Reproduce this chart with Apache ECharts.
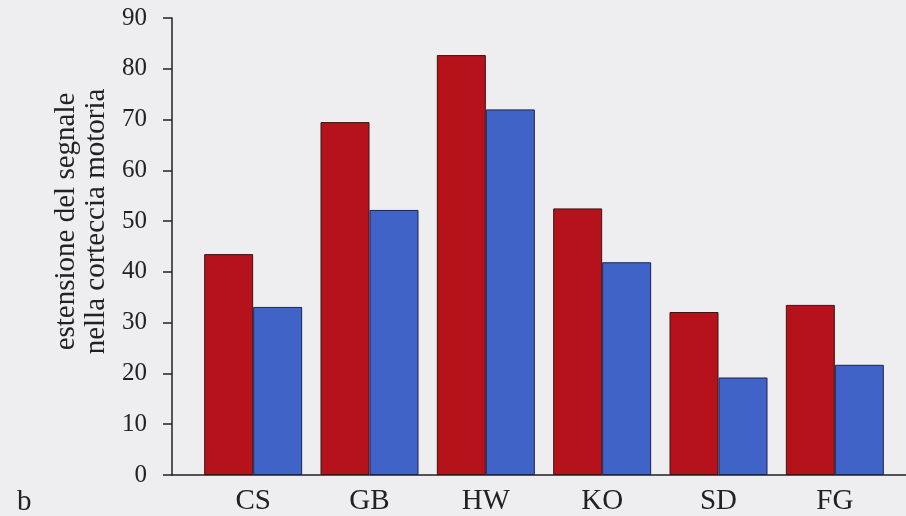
<!DOCTYPE html>
<html>
<head>
<meta charset="utf-8">
<script src="https://cdn.jsdelivr.net/npm/echarts@6/dist/echarts.min.js"></script>
<style>
  html, body { margin: 0; padding: 0; background: #eeeef0; }
  #chart { width: 906px; height: 516px; }
</style>
</head>
<body>
<div id="chart"></div>
<script>
// Subjects (categories along the x axis)
const categories = ['CS', 'GB', 'HW', 'KO', 'SD', 'FG'];
// Extent of the signal in motor cortex, first condition (red bars)
const seriesRed = [43.5, 69.5, 82.7, 52.5, 32.1, 33.5];
// Extent of the signal in motor cortex, second condition (blue bars)
const seriesBlue = [33.1, 52.2, 72.0, 41.9, 19.2, 21.7];
// Y axis range and step
const yMin = 0, yMax = 90, yStep = 10;

const serif = '"Liberation Serif", "DejaVu Serif", serif';
const ink = '#222222';

const chart = echarts.init(document.getElementById('chart'), null, { renderer: 'canvas' });

chart.setOption({
  backgroundColor: '#eeeef0',
  animation: false,
  title: {
    text: 'b',
    left: 12,
    top: 483,
    textStyle: { fontFamily: serif, fontSize: 29, fontWeight: 'normal', color: ink }
  },
  grid: [
    // frame grid: carries the visible y axis and the baseline
    { left: 172, right: 0, top: 18, bottom: 41 },
    // bar grid: categories laid out inside the frame
    { left: 195, right: 13, top: 18, bottom: 41 }
  ],
  xAxis: [
    {
      gridIndex: 0, type: 'value', min: 0, max: 1,
      axisLine: { show: true, lineStyle: { color: ink, width: 1.5 } },
      axisTick: { show: false }, axisLabel: { show: false }, splitLine: { show: false }
    },
    {
      gridIndex: 1, type: 'category', data: categories,
      axisLine: { show: false }, axisTick: { show: false },
      axisLabel: { margin: 12, fontFamily: serif, fontSize: 29, color: ink }
    }
  ],
  yAxis: [
    {
      gridIndex: 0, type: 'value', min: yMin, max: yMax, interval: yStep,
      axisLine: { show: true, lineStyle: { color: ink, width: 1.5 } },
      axisTick: { show: true, inside: false, length: 9, lineStyle: { color: ink, width: 1.5 } },
      axisLabel: { margin: 25, fontFamily: serif, fontSize: 25, color: ink },
      splitLine: { show: false },
      name: 'estensione del segnale\nnella corteccia motoria',
      nameLocation: 'middle',
      nameRotate: 90,
      nameGap: 61,
      nameTextStyle: { fontFamily: serif, fontSize: 29, color: ink, lineHeight: 30, padding: [0, 0, 0, 50] }
    },
    {
      gridIndex: 1, type: 'value', min: yMin, max: yMax, interval: yStep, show: false
    }
  ],
  series: [
    {
      type: 'bar', xAxisIndex: 1, yAxisIndex: 1, data: seriesRed,
      barWidth: 49, barGap: '0%',
      itemStyle: { color: '#b5121b', borderColor: '#3a1418', borderWidth: 1 }
    },
    {
      type: 'bar', xAxisIndex: 1, yAxisIndex: 1, data: seriesBlue,
      barWidth: 49, barGap: '0%',
      itemStyle: { color: '#3f63c6', borderColor: '#1c2450', borderWidth: 1 }
    }
  ]
});
</script>
</body>
</html>
